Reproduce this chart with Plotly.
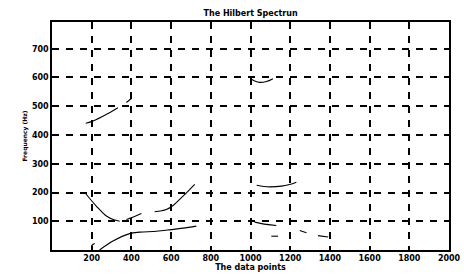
import plotly.graph_objects as go

# Hilbert spectrum ridges (data point index, frequency Hz)
upper_x = [165, 223, 274, 316, 341]
upper_y = [200, 153, 118, 104, 100]
rise1_x = [375, 410, 450]
rise1_y = [106, 115, 127]
rise2_x = [517, 576, 610, 652, 686, 719]
rise2_y = [133, 141, 155, 182, 205, 228]
low_x = [240, 307, 391, 442, 526, 601, 660, 727]
low_y = [0, 31, 57, 62, 65, 71, 76, 83]
tiny_x = [198, 207, 215]
tiny_y = [13, 20, 23]
h500a_x = [170, 207, 274, 332]
h500a_y = [441, 449, 472, 495]
h500b_x = [375, 400]
h500b_y = [513, 527]
h600_x = [1005, 1021, 1046, 1080, 1113]
h600_y = [594, 588, 583, 586, 596]
h220_x = [1031, 1080, 1156, 1197, 1231]
h220_y = [225, 220, 222, 228, 236]
h90_x = [1021, 1080, 1130]
h90_y = [97, 89, 85]
s48_x = [1105, 1139]
s48_y = [48, 48]
s60_x = [1248, 1282]
s60_y = [68, 60]
s45_x = [1340, 1391]
s45_y = [50, 45]

segments = [
    (upper_x, upper_y), (rise1_x, rise1_y), (rise2_x, rise2_y), (low_x, low_y),
    (tiny_x, tiny_y), (h500a_x, h500a_y), (h500b_x, h500b_y), (h600_x, h600_y),
    (h220_x, h220_y), (h90_x, h90_y), (s48_x, s48_y), (s60_x, s60_y), (s45_x, s45_y),
]

x_ticks = [200, 400, 600, 800, 1000, 1200, 1400, 1600, 1800, 2000]
y_ticks = [100, 200, 300, 400, 500, 600, 700]

fig = go.Figure()
for sx, sy in segments:
    fig.add_trace(go.Scatter(x=sx, y=sy, mode="lines",
                             line=dict(color="black", width=1.1, shape="spline"),
                             showlegend=False, hoverinfo="skip"))

font = dict(family="DejaVu Sans, Liberation Sans, sans-serif", color="black")
fig.update_layout(
    width=464, height=278,
    margin=dict(l=52, r=15, t=22, b=28, autoexpand=False),
    paper_bgcolor="white", plot_bgcolor="white",
    title=dict(text="<b>The Hilbert Spectrun</b>", x=0.54, xanchor="center",
               xref="container", yref="container",
               y=0.942, yanchor="bottom", font=dict(size=8, **font)),
    font=dict(size=8, **font),
)
fig.update_xaxes(range=[0, 2000], tickvals=x_ticks,
                 ticktext=[f"<b>{v}</b>" for v in x_ticks],
                 showgrid=True, gridcolor="black", gridwidth=1.5, griddash="7px,7px",
                 showline=True, linecolor="black", linewidth=1.5, mirror=True,
                 ticks="", zeroline=False, automargin=False, tickfont=dict(size=8, **font),
                 title=dict(text="<b>The data points</b>", standoff=1,
                            font=dict(size=8, **font)))
fig.update_yaxes(range=[0, 793], tickvals=y_ticks,
                 ticktext=[f"<b>{v}</b>" for v in y_ticks],
                 showgrid=True, gridcolor="black", gridwidth=1.5, griddash="7px,7px",
                 showline=True, linecolor="black", linewidth=1.5, mirror=True,
                 ticks="", zeroline=False, automargin=False, tickfont=dict(size=8, **font),
                 title=dict(text="<b>Frequency (Hz)</b>", standoff=4,
                            font=dict(size=6, **font)))

fig.write_html("out.html", config={"displayModeBar": False},
               post_script="document.body.style.margin='0';document.body.style.overflow='hidden';")
